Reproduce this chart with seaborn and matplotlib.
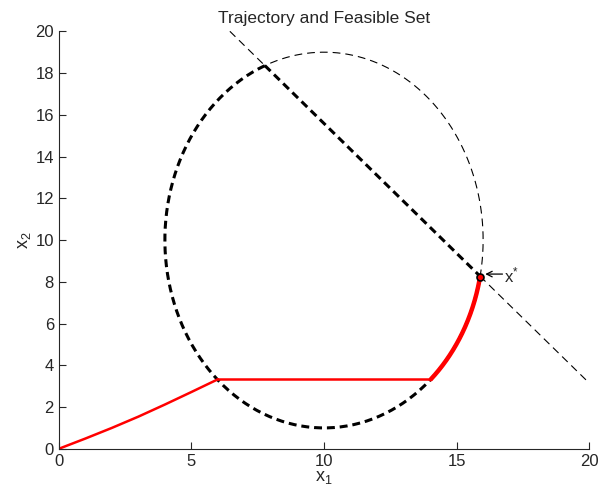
import numpy as np
import pandas as pd
import seaborn as sns
import matplotlib.pyplot as plt

# feasible set: ellipse centre and semi-axes
ell_center = (10.0, 10.0)
ell_radii = (6.0, 9.0)

# constraint line end points
line_x = [6.45, 20.0]
line_y = [20.0, 3.15]

# points
upper_cross = (7.77, 18.35)   # line meets ellipse (top left)
x_star = (15.88, 8.22)        # optimum
corner_y = 3.33               # height of the flat red segment

# first part of the trajectory
traj1_x = [0, 1, 2, 3, 4, 5, 6.0]
traj1_y = [0, 0.49, 1.0, 1.54, 2.12, 2.72, 3.33]

sns.set_style("ticks")
plt.rcParams['font.family'] = ['Liberation Sans', 'DejaVu Sans']
plt.rcParams['mathtext.fontset'] = 'custom'
plt.rcParams['mathtext.rm'] = 'Liberation Sans'
plt.rcParams['mathtext.it'] = 'Liberation Sans'


def ellipse_arc(t0, t1, n=200):
    t = np.linspace(t0, t1, n)
    return pd.DataFrame({"x": ell_center[0] + ell_radii[0] * np.cos(t),
                         "y": ell_center[1] + ell_radii[1] * np.sin(t)})


def angle(p):
    return np.arctan2((p[1] - ell_center[1]) / ell_radii[1],
                      (p[0] - ell_center[0]) / ell_radii[0])


a_up = angle(upper_cross)
a_star = angle(x_star)
a_corner = -np.arcsin((ell_center[1] - corner_y) / ell_radii[1])
x_corner_left = ell_center[0] - ell_radii[0] * np.cos(a_corner)
x_corner_right = ell_center[0] + ell_radii[0] * np.cos(a_corner)

fig, ax = plt.subplots(figsize=(6, 4.97), dpi=100)
fig.subplots_adjust(left=0.098, right=0.982, bottom=0.097, top=0.937)

thick = dict(color="black", lw=2.2, linestyle=(0, (2.6, 1.6)))
thin = dict(color="black", lw=0.8, linestyle=(0, (7.0, 4.5)))

# ellipse: inside feasible half thick, rest thin
sns.lineplot(data=ellipse_arc(a_up, a_star + 2 * np.pi), x="x", y="y",
             sort=False, estimator=None, ax=ax, **thick)
sns.lineplot(data=ellipse_arc(a_star, a_up), x="x", y="y",
             sort=False, estimator=None, ax=ax, **thin)

# constraint line
slope = (line_y[1] - line_y[0]) / (line_x[1] - line_x[0])


def line_seg(xa, xb):
    xs = np.array([xa, xb])
    return pd.DataFrame({"x": xs, "y": line_y[0] + slope * (xs - line_x[0])})


sns.lineplot(data=line_seg(upper_cross[0], x_star[0]), x="x", y="y",
             sort=False, estimator=None, ax=ax, **thick)
sns.lineplot(data=line_seg(line_x[0], upper_cross[0]), x="x", y="y",
             sort=False, estimator=None, ax=ax, **thin)
sns.lineplot(data=line_seg(x_star[0], line_x[1]), x="x", y="y",
             sort=False, estimator=None, ax=ax, **thin)

# trajectory
t1 = pd.DataFrame({"x": traj1_x, "y": traj1_y})
sns.lineplot(data=t1, x="x", y="y", sort=False, estimator=None, ax=ax,
             color="red", lw=1.8)
t2 = pd.DataFrame({"x": [x_corner_left, x_corner_right], "y": [corner_y, corner_y]})
sns.lineplot(data=t2, x="x", y="y", sort=False, estimator=None, ax=ax,
             color="red", lw=1.8)
sns.lineplot(data=ellipse_arc(a_corner, a_star), x="x", y="y",
             sort=False, estimator=None, ax=ax, color="red", lw=3.2)

ax.plot(x_star[0], x_star[1], "o", ms=5, mfc="red", mec="black", mew=1.2)
ax.annotate("", xy=(x_star[0] + 0.2, x_star[1] + 0.15),
            xytext=(x_star[0] + 0.85, x_star[1] + 0.15),
            arrowprops=dict(arrowstyle="->", lw=0.9, color="black",
                            shrinkA=0, shrinkB=0))
ax.text(x_star[0] + 0.92, x_star[1] + 0.1, r"x$^{*}$",
        fontsize=12, va="center", ha="left")

ax.set_xlim(0, 20)
ax.set_ylim(0, 20)
ax.set_xticks([0, 5, 10, 15, 20])
ax.set_yticks(range(0, 21, 2))
ax.tick_params(direction="in", length=5, labelsize=12, width=0.8)
for s in ["left", "bottom"]:
    ax.spines[s].set_linewidth(0.8)
sns.despine(ax=ax)

ax.set_xlabel(r"x$_1$", fontsize=13, labelpad=0)
ax.set_ylabel(r"x$_2$", fontsize=13, labelpad=2)
ax.set_title("Trajectory and Feasible Set", fontsize=12.5, pad=6)

fig.savefig("out.png", dpi=100)
